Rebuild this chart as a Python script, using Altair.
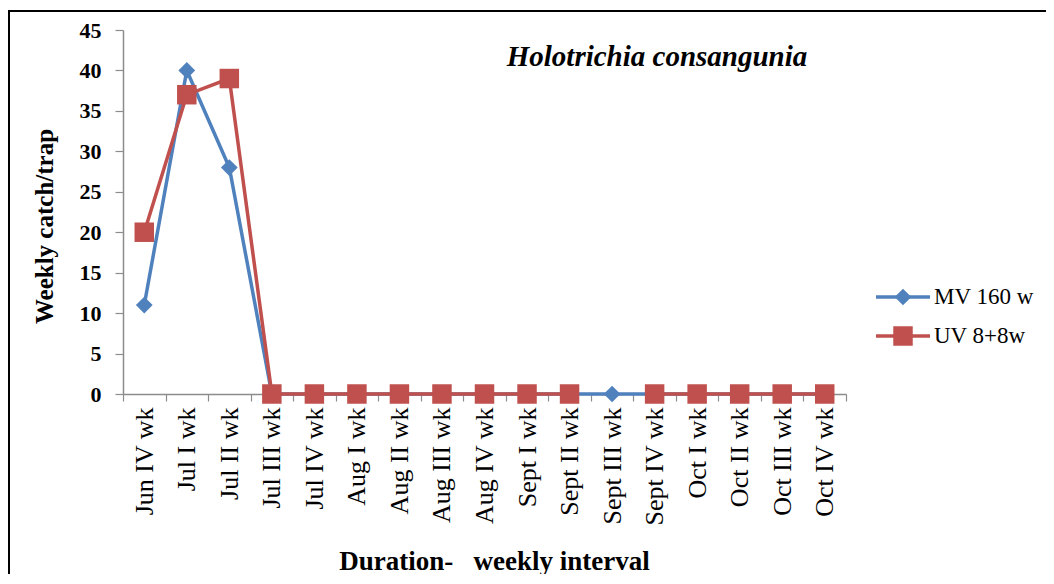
import altair as alt
import pandas as pd

weeks = ["Jun IV wk", "Jul I wk", "Jul II wk", "Jul III wk", "Jul IV wk",
         "Aug I wk", "Aug II wk", "Aug III wk", "Aug IV wk",
         "Sept I wk", "Sept II wk", "Sept III wk", "Sept IV wk",
         "Oct I wk", "Oct II wk", "Oct III wk", "Oct IV wk"]
mv_160w = [11, 40, 28, 0, 0, 0, 0, 0, 0, 0, 0, 0, 0, 0, 0, 0, 0]
uv_8_8w = [20, 37, 39, 0, 0, 0, 0, 0, 0, 0, 0, None, 0, 0, 0, 0, 0]
series = ["MV 160 w", "UV 8+8w"]
colors = ["#4F81BD", "#C0504D"]
shapes = ["diamond", "square"]
marker_sizes = [280, 380]
y_ticks = [0, 5, 10, 15, 20, 25, 30, 35, 40, 45]
species = "Holotrichia consangunia"
x_title = "Duration-\u00a0\u00a0 weekly interval"
y_title = "Weekly catch/trap"

rows = []
for name, vals in zip(series, [mv_160w, uv_8_8w]):
    for i, (w, v) in enumerate(zip(weeks, vals)):
        rows.append({"week": w, "value": v, "series": name, "order": i})
df = pd.DataFrame(rows)

FONT = "Liberation Serif"
GRAY = "#8C8C8C"
W, H = 723, 364

color = alt.Color("series:N", scale=alt.Scale(domain=series, range=colors), legend=None)
shape = alt.Shape("series:N", scale=alt.Scale(domain=series, range=shapes), legend=None)
size = alt.Size("series:N", scale=alt.Scale(domain=series, range=marker_sizes), legend=None)

x_enc = alt.X("week:N", sort=weeks,
              scale=alt.Scale(type="band", domain=weeks, paddingInner=0, paddingOuter=0),
              axis=alt.Axis(labelAngle=-90, labelFont=FONT, labelFontSize=26,
                            labelColor="black", labelPadding=6, tickBand="extent",
                            tickSize=7, tickColor=GRAY, domainColor=GRAY, tickWidth=1.2,
                            domainWidth=1.5, grid=False,
                            title=x_title, titleFont=FONT, titleFontSize=27,
                            titleFontWeight="bold", titleColor="black",
                            titleX=371, titleY=175, titleBaseline="alphabetic"))
y_enc = alt.Y("value:Q", scale=alt.Scale(domain=[0, 45], nice=False, zero=True),
              axis=alt.Axis(values=y_ticks, labelFont=FONT, labelFontSize=22,
                            labelFontWeight="bold", labelColor="black", labelPadding=14,
                            tickSize=8, tickColor=GRAY, domainColor=GRAY, tickWidth=1.2,
                            domainWidth=1.5, grid=False,
                            title=y_title, titleFont=FONT, titleFontSize=25,
                            titleFontWeight="bold", titleColor="black",
                            titleX=-66, titleY=196, titleAngle=270))

base = alt.Chart(df)
lines = base.mark_line(strokeWidth=3.5).encode(
    x=x_enc, y=y_enc, color=color, detail="series:N", order="order:Q")
points = base.mark_point(filled=True, opacity=1).encode(
    x=alt.X("week:N", sort=weeks), y=alt.Y("value:Q"), color=color, shape=shape, size=size)
main = alt.layer(lines, points)

leg_df = pd.DataFrame({"series": series})
leg_y = alt.Y("series:N", scale=alt.Scale(type="point", domain=series, range=[267, 306], padding=0), axis=None)
leg_base = alt.Chart(leg_df)
leg_rule = leg_base.mark_rule(strokeWidth=3.5).encode(
    x=alt.value(753), x2=alt.value(807), y=leg_y, color=color)
leg_pts = leg_base.mark_point(filled=True, opacity=1).encode(
    x=alt.value(780), y=leg_y, color=color, shape=shape, size=size)
leg_txt = leg_base.mark_text(align="left", baseline="middle", font=FONT, fontSize=23,
                             color="black").encode(
    x=alt.value(811), y=leg_y, text="series:N")
legend = alt.layer(leg_rule, leg_pts, leg_txt)

ann_df = pd.DataFrame({"label": [species]})
ann = alt.Chart(ann_df).mark_text(font=FONT, fontSize=29, fontWeight="bold",
                                  fontStyle="italic", align="center",
                                  baseline="alphabetic", color="black").encode(
    x=alt.value(534), y=alt.value(36), text="label:N")

frame = alt.Chart(ann_df).mark_rect(filled=False, stroke="black", strokeWidth=2).encode(
    x=alt.value(-114), x2=alt.value(1000), y=alt.value(-19), y2=alt.value(700))

chart = alt.layer(frame, main, legend, ann).resolve_scale(y="independent").properties(
    width=W, height=H,
    autosize=alt.AutoSizeParams(type="none"),
    padding={"left": 115, "top": 22, "right": 200, "bottom": 180},
    background="white",
).configure_view(stroke=None)

chart.save("out.html", embed_options={"renderer": "svg", "actions": False})
